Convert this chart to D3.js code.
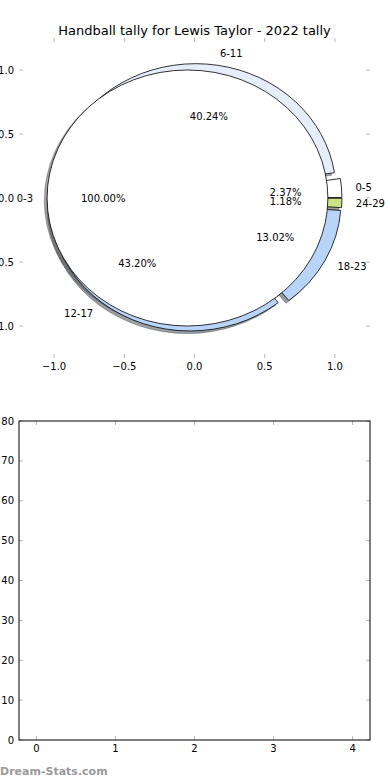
<!DOCTYPE html>
<html lang="en">
<head>
    <meta charset="UTF-8">
    <title>Handball tally for Lewis Taylor - 2022 tally</title>
    <style>
        body {
            margin: 0;
            padding: 0;
            background: #fff;
        }
        svg {
            display: block;
        }
        text {
            font-family: "DejaVu Sans", sans-serif;
            fill: #000;
        }
        .tick-mark {
            stroke: #b8b8b8;
            stroke-width: 1px;
        }
        .tick-label {
            font-size: 10px;
        }
        .pie-text {
            font-size: 10px;
        }
    </style>
</head>
<body>
    <script src="https://d3js.org/d3.v7.min.js"></script>
    <script>
        // Outer ring (age groups) and inner pie
        const outerLabels = ['0-5', '6-11', '12-17', '18-23', '24-29'];
        const outerValues = [2.37, 40.24, 43.20, 13.02, 1.18];
        const innerLabels = ['0-3'];
        const innerValues = [100];

        const pieTicks = [-1.0, -0.5, 0.0, 0.5, 1.0];
        const barXTicks = [0, 1, 2, 3, 4];
        const barYTicks = [0, 10, 20, 30, 40, 50, 60, 70, 80];

        const outerColors = ['#ffffff', '#e6eefc', '#b9d4f9', '#b9d4f9', '#cde386'];
        const innerColors = ['#ffffff'];

        const width = 390;
        const height = 780;
        const explode = 0.05;
        const radius = 1;

        const svg = d3.select('body').append('svg')
            .attr('width', width)
            .attr('height', height);

        // ---------- top: pie axes ----------
        const pieBox = { left: 19, right: 370, top: 38, bottom: 358 };
        const x = d3.scaleLinear().domain([-1.25, 1.25]).range([pieBox.left, pieBox.right]);
        const y = d3.scaleLinear().domain([-1.25, 1.25]).range([pieBox.bottom, pieBox.top]);

        svg.append('text')
            .attr('x', (pieBox.left + pieBox.right) / 2)
            .attr('y', 35)
            .attr('text-anchor', 'middle')
            .style('font-size', '13px')
            .text('Handball tally for Lewis Taylor - 2022 tally');

        // angles counter-clockwise from +x, starting at 0
        const pie = d3.pie().sort(null).startAngle(0).endAngle(2 * Math.PI);

        function wedges(values, labels, colors) {
            return pie(values).map((d, i) => {
                const mid = (d.startAngle + d.endAngle) / 2;
                return {
                    label: labels[i],
                    value: d.value,
                    pct: d.value / d3.sum(values) * 100,
                    color: colors[i],
                    t1: d.startAngle,
                    t2: d.endAngle,
                    mid: mid,
                    cx: explode * Math.cos(mid),
                    cy: explode * Math.sin(mid)
                };
            });
        }

        const outer = wedges(outerValues, outerLabels, outerColors);
        const inner = wedges(innerValues, innerLabels, innerColors);

        const rx = x(radius) - x(0);
        const ry = y(0) - y(radius);

        function wedgePath(w, dx, dy) {
            const cx = w.cx + dx, cy = w.cy + dy;
            if (w.t2 - w.t1 >= 2 * Math.PI - 1e-9) {
                // full circle as two half arcs
                return `M${x(cx + radius)},${y(cy)}A${rx},${ry} 0 1 0 ${x(cx - radius)},${y(cy)}A${rx},${ry} 0 1 0 ${x(cx + radius)},${y(cy)}Z`;
            }
            const large = (w.t2 - w.t1) > Math.PI ? 1 : 0;
            return `M${x(cx)},${y(cy)}` +
                `L${x(cx + radius * Math.cos(w.t1))},${y(cy + radius * Math.sin(w.t1))}` +
                `A${rx},${ry} 0 ${large} 0 ${x(cx + radius * Math.cos(w.t2))},${y(cy + radius * Math.sin(w.t2))}Z`;
        }

        function shadowColor(c) {
            const rgb = d3.rgb(c);
            return `rgba(${Math.round(rgb.r * 0.3)},${Math.round(rgb.g * 0.3)},${Math.round(rgb.b * 0.3)},0.5)`;
        }

        const pieG = svg.append('g');
        const all = outer.concat(inner);

        // shadows below every wedge
        pieG.append('g').selectAll('path')
            .data(all)
            .enter().append('path')
            .attr('d', d => wedgePath(d, -0.02, -0.02))
            .attr('fill', d => shadowColor(d.color))
            .attr('stroke', d => shadowColor(d.color))
            .attr('stroke-width', 0.8);

        pieG.append('g').selectAll('path')
            .data(all)
            .enter().append('path')
            .attr('d', d => wedgePath(d, 0, 0))
            .attr('fill', d => d.color)
            .attr('stroke', '#000')
            .attr('stroke-width', 0.8)
            .attr('stroke-linejoin', 'round');

        // labels and percentages
        const textG = pieG.append('g');
        all.forEach(d => {
            const lx = d.cx + 1.1 * radius * Math.cos(d.mid);
            const ly = d.cy + 1.1 * radius * Math.sin(d.mid);
            textG.append('text')
                .attr('class', 'pie-text')
                .attr('x', x(lx))
                .attr('y', y(ly))
                .attr('dy', '0.4em')
                .attr('text-anchor', lx > 0 ? 'start' : 'end')
                .text(d.label);

            const px = d.cx + 0.6 * radius * Math.cos(d.mid);
            const py = d.cy + 0.6 * radius * Math.sin(d.mid);
            textG.append('text')
                .attr('class', 'pie-text')
                .attr('x', x(px))
                .attr('y', y(py))
                .attr('dy', '0.4em')
                .attr('text-anchor', 'middle')
                .text(d.pct.toFixed(2) + '%');
        });

        // ticks (no spines on the pie axes)
        const tickLen = 4;
        const pieTickG = svg.append('g');
        pieTicks.forEach(v => {
            pieTickG.append('line').attr('class', 'tick-mark')
                .attr('x1', x(v)).attr('x2', x(v)).attr('y1', pieBox.top).attr('y2', pieBox.top + tickLen);
            pieTickG.append('line').attr('class', 'tick-mark')
                .attr('x1', x(v)).attr('x2', x(v)).attr('y1', pieBox.bottom).attr('y2', pieBox.bottom - tickLen);
            pieTickG.append('line').attr('class', 'tick-mark')
                .attr('y1', y(v)).attr('y2', y(v)).attr('x1', pieBox.left).attr('x2', pieBox.left + tickLen);
            pieTickG.append('line').attr('class', 'tick-mark')
                .attr('y1', y(v)).attr('y2', y(v)).attr('x1', pieBox.right).attr('x2', pieBox.right - tickLen);

            pieTickG.append('text').attr('class', 'tick-label')
                .attr('x', x(v)).attr('y', pieBox.bottom + 8).attr('dy', '0.35em')
                .attr('text-anchor', 'middle')
                .text(d3.format('.1f')(v).replace('-', '\u2212'));
            pieTickG.append('text').attr('class', 'tick-label')
                .attr('x', pieBox.left - 5).attr('y', y(v)).attr('dy', '0.35em')
                .attr('text-anchor', 'end')
                .text(d3.format('.1f')(v).replace('-', '\u2212'));
        });

        // ---------- bottom: empty axes ----------
        const bot = { left: 19, right: 370, top: 421, bottom: 740 };
        const bx = d3.scaleLinear().domain([-0.22, 4.22]).range([bot.left, bot.right]);
        const by = d3.scaleLinear().domain([0, 80]).range([bot.bottom, bot.top]);

        const botG = svg.append('g');
        barXTicks.forEach(v => {
            botG.append('line').attr('class', 'tick-mark')
                .attr('x1', bx(v)).attr('x2', bx(v)).attr('y1', bot.bottom).attr('y2', bot.bottom - tickLen);
            botG.append('line').attr('class', 'tick-mark')
                .attr('x1', bx(v)).attr('x2', bx(v)).attr('y1', bot.top).attr('y2', bot.top + tickLen);
            botG.append('text').attr('class', 'tick-label')
                .attr('x', bx(v)).attr('y', bot.bottom + 8).attr('dy', '0.35em')
                .attr('text-anchor', 'middle')
                .text(v);
        });
        barYTicks.forEach(v => {
            botG.append('line').attr('class', 'tick-mark')
                .attr('y1', by(v)).attr('y2', by(v)).attr('x1', bot.left).attr('x2', bot.left + tickLen);
            botG.append('line').attr('class', 'tick-mark')
                .attr('y1', by(v)).attr('y2', by(v)).attr('x1', bot.right).attr('x2', bot.right - tickLen);
            botG.append('text').attr('class', 'tick-label')
                .attr('x', bot.left - 5).attr('y', by(v)).attr('dy', '0.35em')
                .attr('text-anchor', 'end')
                .text(v);
        });
        botG.append('rect')
            .attr('x', bot.left).attr('y', bot.top)
            .attr('width', bot.right - bot.left).attr('height', bot.bottom - bot.top)
            .attr('fill', 'none')
            .attr('stroke', '#000')
            .attr('stroke-width', 1);

        svg.append('text')
            .attr('x', 0)
            .attr('y', 775)
            .style('font-size', '11px')
            .style('font-weight', 'bold')
            .style('fill', '#999')
            .text('Dream-Stats.com');
    </script>
</body>
</html>
